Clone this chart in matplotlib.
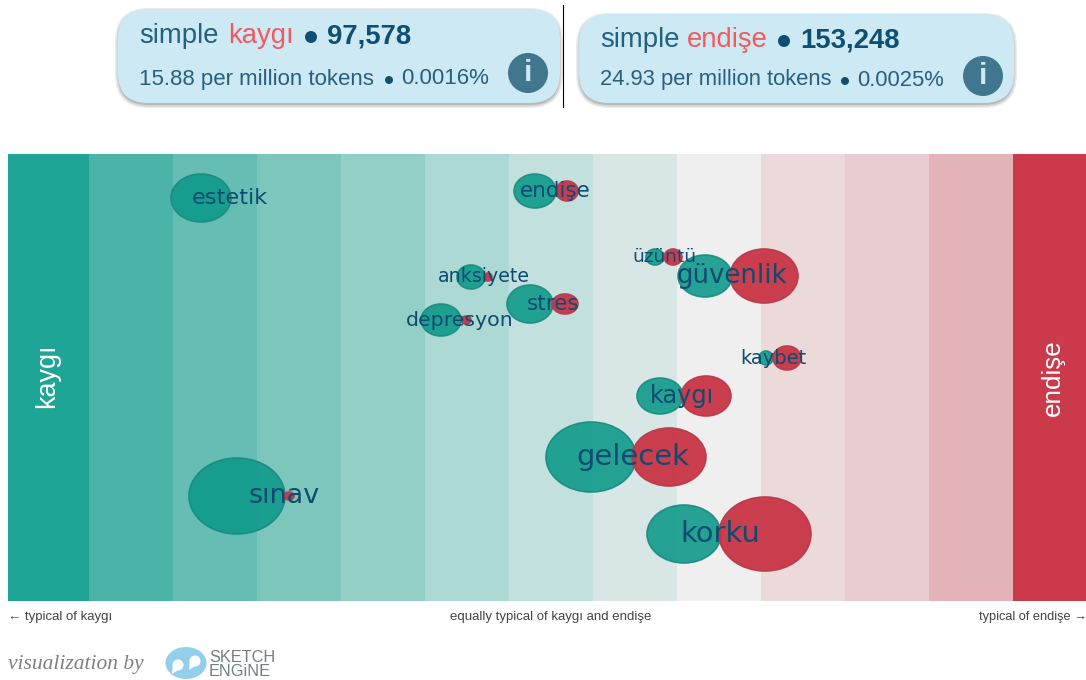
#!/usr/bin/env python3
"""simple kaygı / endişe karşılaştırma grafiği"""

import matplotlib
matplotlib.use('Agg')
import matplotlib.pyplot as plt
from matplotlib.patches import Ellipse, FancyBboxPatch, Circle, Rectangle, Polygon

plt.rcParams['font.family'] = ['Liberation Sans', 'DejaVu Sans']

# bands
band_edges = [8, 89, 173, 257, 341, 425, 509, 593, 677, 761, 845, 929, 1013, 1086]
band_colors = ['#1fa596', '#4cb3a9', '#65bdb3', '#7cc6bc', '#94cfc6', '#acd9d3', '#c2e0de',
               '#d8e6e5', '#efefef', '#ecdadb', '#e9ccd0', '#e4b3b8', '#cb3a4a']

# collocates
words = ['estetik', 'endişe', 'anksiyete', 'stres', 'depresyon', 'üzüntü',
         'güvenlik', 'kaybet', 'kaygı', 'gelecek', 'korku', 'sınav']
row_y = [198, 191, 277, 304, 320, 257, 276, 358, 396, 457, 534, 496]
teal_x = [201, 535, 471, 530, 441, 655, 705, 766, 660, 591, 684, 237]
teal_w = [60, 42, 28, 46, 40, 18, 54, 14, 46, 90, 74, 96]
teal_h = [48, 34, 24, 38, 32, 16, 42, 14, 36, 70, 58, 76]
red_x = [None, 567, 488, 565, 466, 673, 764, 787, 706, 669, 765, 289]
red_w = [0, 22, 8, 26, 10, 18, 68, 28, 50, 74, 92, 10]
red_h = [0, 20, 8, 20, 8, 16, 54, 24, 40, 58, 74, 8]
label_x = [230, 555, 484, 553, 460, 664, 732, 773, 682, 633, 720, 284]
label_px = [22.5, 21.5, 19, 21.5, 20.5, 18.5, 26, 19.5, 24, 29, 29, 27]

DARK = '#0d4c72'
fig = plt.figure(figsize=(10.86, 6.8), dpi=100)
ax = fig.add_axes([0, 0, 1, 1])
ax.set_xlim(0, 1086)
ax.set_ylim(680, 0)
ax.axis('off')


def px(size):
    return size * 0.72


# heatmap-like bands
for i, c in enumerate(band_colors):
    ax.add_patch(Rectangle((band_edges[i], 154), band_edges[i + 1] - band_edges[i], 447,
                           fc=c, ec='none', zorder=1))

# bubbles
for i, w in enumerate(words):
    ax.add_patch(Ellipse((teal_x[i], row_y[i]), teal_w[i], teal_h[i], fc='#0f9a8a', ec='#1a8a80',
                         lw=1.2, alpha=0.9, zorder=2))
    if red_x[i] is not None:
        ax.add_patch(Ellipse((red_x[i], row_y[i]), red_w[i], red_h[i], fc='#c93445', ec='#b93a4c',
                             lw=1.2, alpha=0.95, zorder=3))
    ax.text(label_x[i], row_y[i], w, color=DARK, fontsize=px(label_px[i]), family='DejaVu Sans',
            ha='center', va='center', zorder=4)

ax.text(47, 376, 'kaygı', color='white', fontsize=px(27), rotation=90, ha='center', va='center', zorder=4)
ax.text(1053, 378, 'endişe', color='white', fontsize=px(26), rotation=90, ha='center', va='center', zorder=4)

# axis captions
ax.text(8, 617, '← typical of kaygı', color='#444444', fontsize=px(13.3), va='center')
ax.text(551, 617, 'equally typical of kaygı and endişe', color='#444444', fontsize=px(13.3),
        ha='center', va='center')
ax.text(979, 617, 'typical of endişe →', color='#444444', fontsize=px(12.8), va='center')


# stat cards
def draw_card(x0, y0, x1, y1, word, word_x, count, count_x, rate, info_xy, dot1, dot2, sub_y, top_y, sub_px):
    r = 30
    for grow, alpha in [(3, 0.2), (1.5, 0.35), (0, 0.6)]:
        ax.add_patch(FancyBboxPatch((x0 + r, y0 + r + 2), x1 - x0 - 2 * r, y1 - y0 - 2 * r,
                                    boxstyle=f'round,pad={r + grow},rounding_size={r + grow}',
                                    fc='#a8a8a8', ec='none', alpha=alpha, zorder=5))
    ax.add_patch(FancyBboxPatch((x0 + r, y0 + r), x1 - x0 - 2 * r, y1 - y0 - 2 * r,
                                boxstyle=f'round,pad={r},rounding_size={r}', fc='#cde9f3', ec='none',
                                zorder=6))
    ax.text(x0 + 21, top_y, 'simple', color='#24607f', fontsize=px(27.5), va='center', zorder=7)
    ax.text(word_x, top_y, word, color='#f25a5f', fontsize=px(27.5), va='center', zorder=7)
    ax.add_patch(Circle((dot1, top_y + 1), 6, fc='#0f4f74', ec='none', zorder=7))
    ax.text(count_x, top_y, count, color='#0f4f74', fontsize=px(27.5), fontweight='bold', va='center', zorder=7)
    ax.text(x0 + 21, sub_y, rate[0], color='#285f80', fontsize=px(sub_px), va='center', zorder=7)
    ax.add_patch(Circle((dot2, sub_y + 1), 4, fc='#0f4f74', ec='none', zorder=7))
    ax.text(dot2 + 12, sub_y, rate[1], color='#285f80', fontsize=px(sub_px), va='center', zorder=7)
    ax.add_patch(Circle(info_xy, 20, fc='#41768f', ec='none', zorder=7))
    ax.text(info_xy[0], info_xy[1], 'i', color='#cde9f3', fontsize=px(30), fontweight='bold',
            ha='center', va='center', zorder=8)


draw_card(118, 9, 560, 103, 'kaygı', 228, '97,578', 327, ('15.88 per million tokens', '0.0016%'),
          (528, 73), 311, 389, 79, 36, 22.3)
draw_card(579, 14, 1014, 103, 'endişe', 687, '153,248', 800, ('24.93 per million tokens', '0.0025%'),
          (983, 76), 784, 845, 80, 40, 22)
ax.plot([563, 563], [5, 107], color='black', lw=0.8, zorder=9)

# footer
ax.text(8, 665, 'visualization by', color='#808080', fontsize=px(21.5), family='Liberation Serif',
        style='italic', va='center')
ax.add_patch(Ellipse((186, 663), 41, 32, fc='#93cfea', ec='none'))
for cx, cy, tx, ty in [(178, 665, 172, 674), (195, 661, 189, 670)]:
    ax.add_patch(Circle((cx, cy), 5.5, fc='white', ec='none'))
    ax.add_patch(Polygon([(cx - 5, cy - 2), (cx + 5, cy + 2), (tx, ty)], fc='white', ec='none'))
ax.text(209, 658, 'SKETCH', color='#6f7f86', fontsize=px(16.2), va='center')
ax.text(209, 671, 'ENGiNE', color='#6f7f86', fontsize=px(16.2), va='center')

fig.savefig('out.png', dpi=100)
plt.close(fig)
